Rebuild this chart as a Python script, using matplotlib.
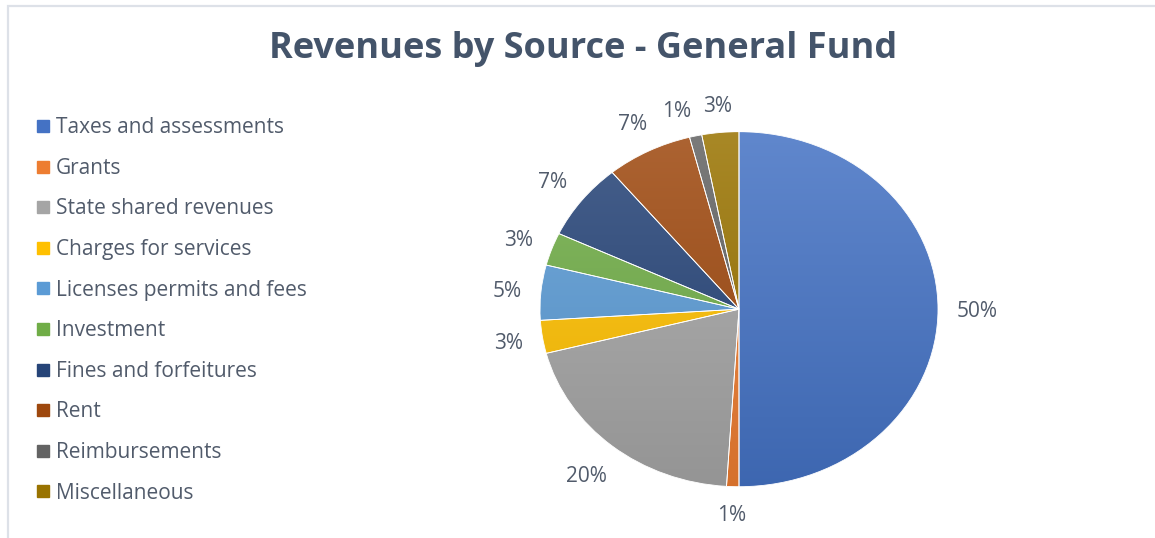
import numpy as np
import matplotlib
matplotlib.use("Agg")
import matplotlib.pyplot as plt
from matplotlib.colors import LinearSegmentedColormap, to_rgb
from matplotlib.lines import Line2D
from matplotlib.patches import Rectangle

plt.rcParams['font.family'] = ['Open Sans', 'DejaVu Sans']

# -----------------------------
# Data
# -----------------------------
sources = ["Taxes and assessments", "Grants", "State shared revenues",
           "Charges for services", "Licenses permits and fees", "Investment",
           "Fines and forfeitures", "Rent", "Reimbursements", "Miscellaneous"]
shares = [50, 1, 20, 3, 5, 3, 7, 7, 1, 3]
colors = ["#4472C4", "#ED7D31", "#A5A5A5", "#FFC000", "#5B9BD5",
          "#70AD47", "#264478", "#9E480E", "#636363", "#997300"]

TEXT = "#515b6b"
TITLE = "#44546A"
PCT_SIZE = 15

W, H = 1155, 538
fig = plt.figure(figsize=(W / 100, H / 100), dpi=100)

# border of the chart area
fig.add_artist(Rectangle((8 / W, -0.1), 1.2, (H - 6) / H + 0.1, transform=fig.transFigure,
                         fill=False, edgecolor="#dde1e8", linewidth=1.6))

fig.text(583 / W, 1 - 49 / H, "Revenues by Source - General Fund", ha="center", va="center",
         fontsize=26, fontweight="bold", color=TITLE)

# -----------------------------
# Pie (stretched horizontally like the original)
# -----------------------------
cx, cy, rx, ry = 739, 309.2, 199, 177.5
lim_x, lim_y = 1.4, 1.25
ax = fig.add_axes([(cx - rx * lim_x) / W, (H - cy - ry * lim_y) / H,
                   2 * rx * lim_x / W, 2 * ry * lim_y / H])

wedges, texts, autotexts = ax.pie(
    shares, colors=colors, startangle=90, counterclock=False,
    autopct=lambda p: f"{p:.0f}%", pctdistance=1.2,
    wedgeprops=dict(edgecolor="white", linewidth=0.6),
    textprops=dict(fontsize=PCT_SIZE, color=TEXT))
ax.set_aspect("auto")
ax.axis("off")

# vertical gradient inside each slice, lighter on top
grad = np.linspace(0, 1, 256).reshape(-1, 1)
for w, c in zip(wedges, colors):
    base = np.array(to_rgb(c))
    top = base + (1 - base) * 0.15
    bottom = base * 0.9
    cmap = LinearSegmentedColormap.from_list("g", [bottom, top])
    im = ax.imshow(grad, cmap=cmap, extent=(-1, 1, -1, 1), aspect="auto",
                   origin="lower", zorder=1, interpolation="bilinear")
    im.set_clip_path(w)
    w.set_facecolor("none")
    w.set_zorder(2)
ax.set_xlim(-lim_x, lim_x)
ax.set_ylim(-lim_y, lim_y)

# -----------------------------
# Labels: fixed pixel gap between rim and glyphs (Excel "outside end")
# -----------------------------
fig.canvas.draw()
renderer = fig.canvas.get_renderer()
origin = ax.transData.transform((0, 0))
rpx = ax.transData.transform((1, 1)) - origin
gap = 19
half_cap = 0.357 * PCT_SIZE * fig.dpi / 72


def place(t, deg):
    a = np.deg2rad(deg)
    v = rpx * np.array([np.cos(a), np.sin(a)])
    u = v / np.hypot(*v)
    hw = t.get_window_extent(renderer).width / 2
    d = gap + abs(u[0]) * hw + abs(u[1]) * half_cap
    c = origin + v + u * d
    t.set_position(ax.transData.inverted().transform((c[0], c[1] - half_cap)))


mids = [(w.theta1 + w.theta2) / 2 for w in wedges]
for t, m in zip(autotexts, mids):
    t.set_va("baseline")
    t.set_clip_on(False)
    place(t, m)

# push a label along the rim when it collides with the next one
for i in range(len(autotexts) - 2, -1, -1):
    t, nxt = autotexts[i], autotexts[i + 1]
    deg = mids[i]
    while t.get_window_extent(renderer).padded(11).overlaps(nxt.get_window_extent(renderer)):
        deg += 0.5
        place(t, deg)

# -----------------------------
# Legend
# -----------------------------
handles = [Line2D([], [], marker="s", linestyle="none", markersize=8,
                  markerfacecolor=c, markeredgecolor=c) for c in colors]
fig.legend(handles, sources, loc="upper left", bbox_to_anchor=(27 / W, 1 - 109 / H),
           frameon=False, fontsize=15, labelcolor=TEXT, handlelength=0.7,
           handletextpad=0.3, labelspacing=0.94, borderaxespad=0)

fig.savefig("out.png", dpi=100)
